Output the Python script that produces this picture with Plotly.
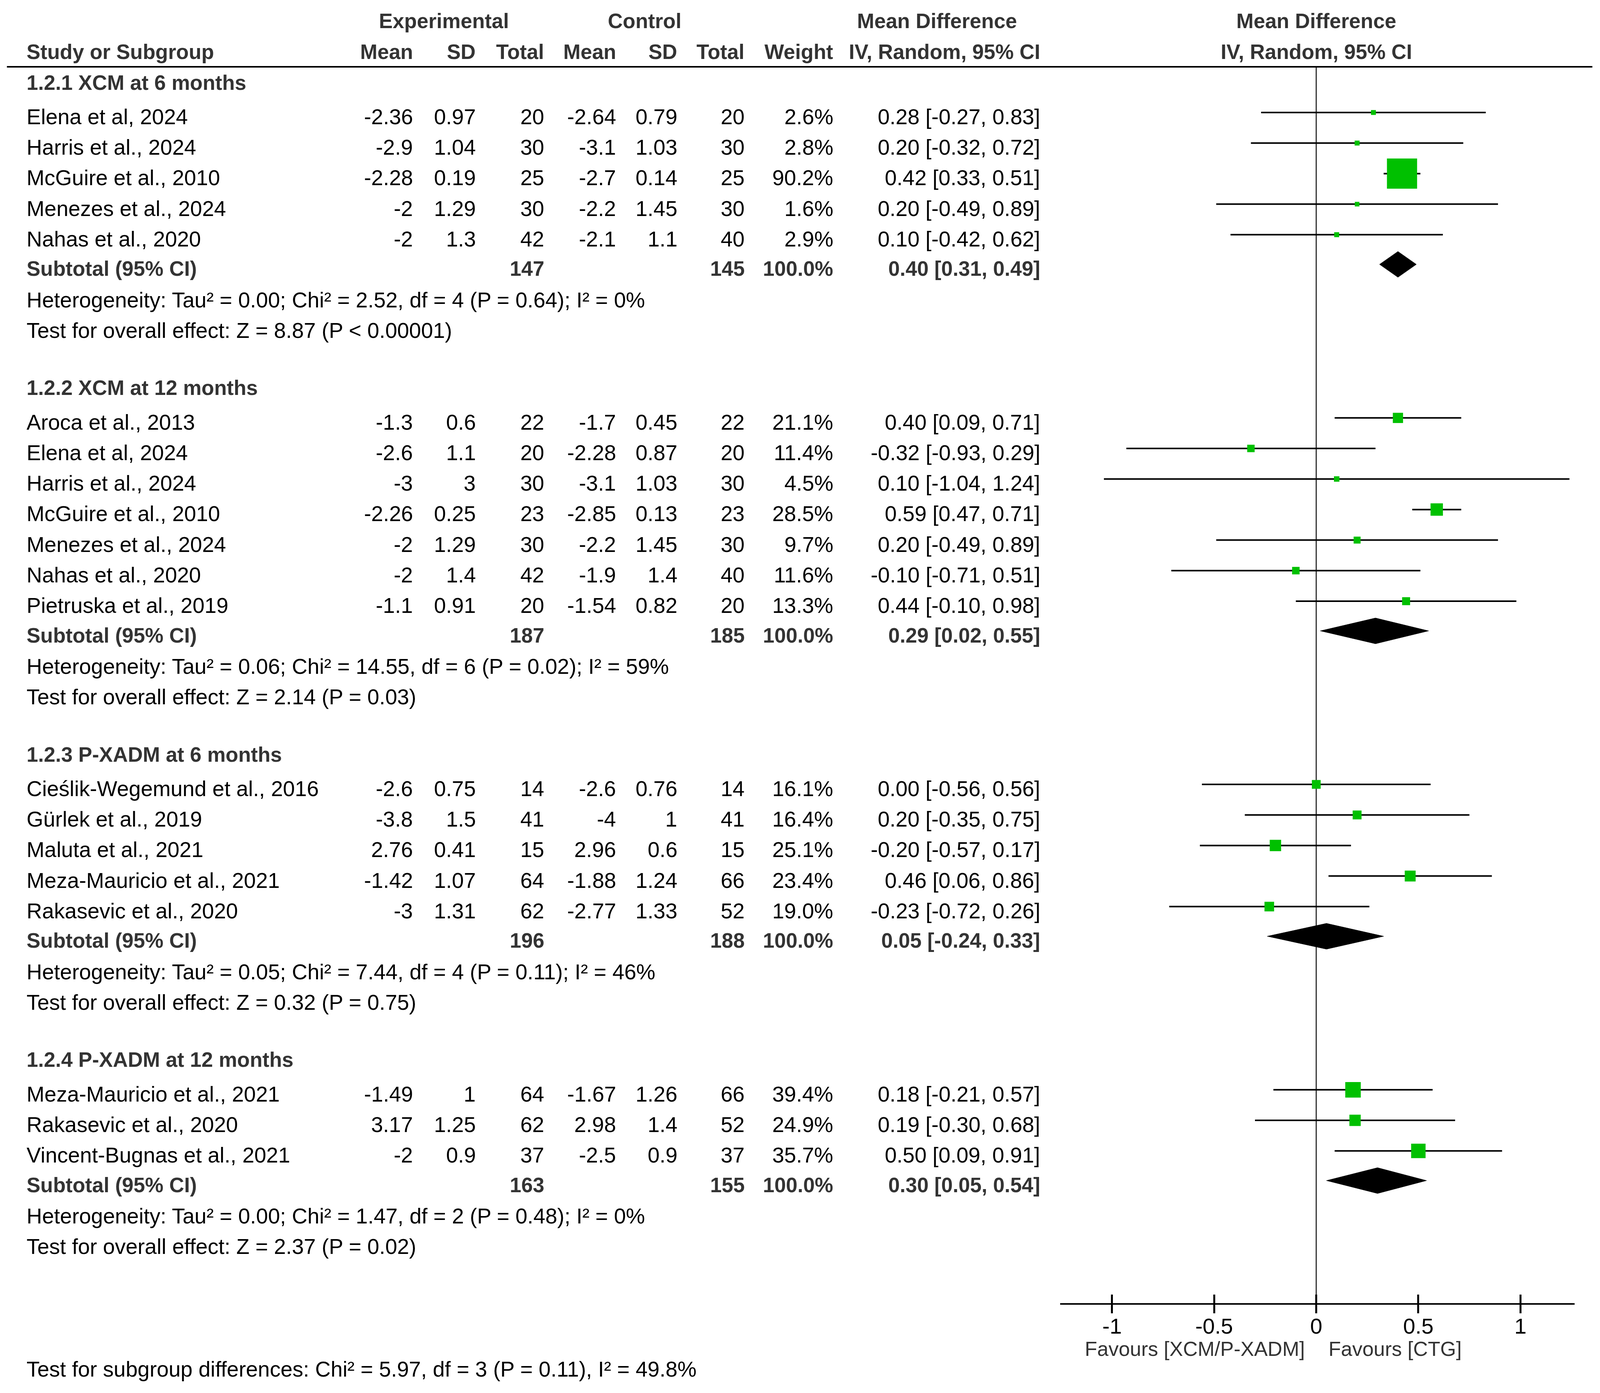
import plotly.graph_objects as go

# ------------------------------------------------------------------ data
group_titles = ["1.2.1 XCM at 6 months", "1.2.2 XCM at 12 months",
                "1.2.3 P-XADM at 6 months", "1.2.4 P-XADM at 12 months"]

study_group = [0, 0, 0, 0, 0,
               1, 1, 1, 1, 1, 1, 1,
               2, 2, 2, 2, 2,
               3, 3, 3]
study_names = ["Elena et al, 2024", "Harris et al., 2024", "McGuire et al., 2010",
               "Menezes et al., 2024", "Nahas et al., 2020",
               "Aroca et al., 2013", "Elena et al, 2024", "Harris et al., 2024",
               "McGuire et al., 2010", "Menezes et al., 2024", "Nahas et al., 2020",
               "Pietruska et al., 2019",
               "Cieślik-Wegemund et al., 2016", "Gürlek et al., 2019", "Maluta et al., 2021",
               "Meza-Mauricio et al., 2021", "Rakasevic et al., 2020",
               "Meza-Mauricio et al., 2021", "Rakasevic et al., 2020",
               "Vincent-Bugnas et al., 2021"]
exp_mean = [-2.36, -2.9, -2.28, -2, -2,
            -1.3, -2.6, -3, -2.26, -2, -2, -1.1,
            -2.6, -3.8, 2.76, -1.42, -3,
            -1.49, 3.17, -2]
exp_sd = [0.97, 1.04, 0.19, 1.29, 1.3,
          0.6, 1.1, 3, 0.25, 1.29, 1.4, 0.91,
          0.75, 1.5, 0.41, 1.07, 1.31,
          1, 1.25, 0.9]
exp_n = [20, 30, 25, 30, 42,
         22, 20, 30, 23, 30, 42, 20,
         14, 41, 15, 64, 62,
         64, 62, 37]
ctl_mean = [-2.64, -3.1, -2.7, -2.2, -2.1,
            -1.7, -2.28, -3.1, -2.85, -2.2, -1.9, -1.54,
            -2.6, -4, 2.96, -1.88, -2.77,
            -1.67, 2.98, -2.5]
ctl_sd = [0.79, 1.03, 0.14, 1.45, 1.1,
          0.45, 0.87, 1.03, 0.13, 1.45, 1.4, 0.82,
          0.76, 1, 0.6, 1.24, 1.33,
          1.26, 1.4, 0.9]
ctl_n = [20, 30, 25, 30, 40,
         22, 20, 30, 23, 30, 40, 20,
         14, 41, 15, 66, 52,
         66, 52, 37]
weights = [2.6, 2.8, 90.2, 1.6, 2.9,
           21.1, 11.4, 4.5, 28.5, 9.7, 11.6, 13.3,
           16.1, 16.4, 25.1, 23.4, 19.0,
           39.4, 24.9, 35.7]
md = [0.28, 0.20, 0.42, 0.20, 0.10,
      0.40, -0.32, 0.10, 0.59, 0.20, -0.10, 0.44,
      0.00, 0.20, -0.20, 0.46, -0.23,
      0.18, 0.19, 0.50]
ci_low = [-0.27, -0.32, 0.33, -0.49, -0.42,
          0.09, -0.93, -1.04, 0.47, -0.49, -0.71, -0.10,
          -0.56, -0.35, -0.57, 0.06, -0.72,
          -0.21, -0.30, 0.09]
ci_high = [0.83, 0.72, 0.51, 0.89, 0.62,
           0.71, 0.29, 1.24, 0.71, 0.89, 0.51, 0.98,
           0.56, 0.75, 0.17, 0.86, 0.26,
           0.57, 0.68, 0.91]

sub_exp_n = [147, 187, 196, 163]
sub_ctl_n = [145, 185, 188, 155]
sub_weight = [100.0, 100.0, 100.0, 100.0]
sub_md = [0.40, 0.29, 0.05, 0.30]
sub_low = [0.31, 0.02, -0.24, 0.05]
sub_high = [0.49, 0.55, 0.33, 0.54]

heterogeneity = [
    "Heterogeneity: Tau² = 0.00; Chi² = 2.52, df = 4 (P = 0.64); I² = 0%",
    "Heterogeneity: Tau² = 0.06; Chi² = 14.55, df = 6 (P = 0.02); I² = 59%",
    "Heterogeneity: Tau² = 0.05; Chi² = 7.44, df = 4 (P = 0.11); I² = 46%",
    "Heterogeneity: Tau² = 0.00; Chi² = 1.47, df = 2 (P = 0.48); I² = 0%",
]
overall_effect = [
    "Test for overall effect: Z = 8.87 (P < 0.00001)",
    "Test for overall effect: Z = 2.14 (P = 0.03)",
    "Test for overall effect: Z = 0.32 (P = 0.75)",
    "Test for overall effect: Z = 2.37 (P = 0.02)",
]
subgroup_test = "Test for subgroup differences: Chi² = 5.97, df = 3 (P = 0.11), I² = 49.8%"

tick_vals = [-1, -0.5, 0, 0.5, 1]
tick_text = ["-1", "-0.5", "0", "0.5", "1"]
favours_left = "Favours [XCM/P-XADM]"
favours_right = "Favours [CTG]"

header_top = ["Experimental", "Control", "Mean Difference"]
header_cols = ["Mean", "SD", "Total", "Mean", "SD", "Total", "Weight", "IV, Random, 95% CI"]

# ------------------------------------------------------------------ layout / style
# The browser viewport is ~4096 px wide (not 4403) and the page has an 8 px
# body margin; the figure is laid out in reference-pixel units and mapped to it.
RW, RH = 4403, 3566
VW, VH = 4096, 3566
SX = VW / RW            # horizontal css px per reference px
OFF = 8
FW, FH = VW - 2 * OFF - 6, VH - 2 * OFF - 4

FONT = "Liberation Sans"
FS, FSB = 55, 53
BLACK, DARK = "#000000", "#333333"
GREEN = "#00C000"

X_STUDY = 71
COL_X = [1138, 1311, 1500, 1697, 1866, 2051, 2295, 2865]
TOP_X = [1222, 1774, 2578]
Y_HEAD1, Y_HEAD2, Y_RULE = 53, 132, 171
Y_AXIS = 3336
X_AXIS_L, X_AXIS_R = 2917, 4333
AX_RANGE = [-1.255, 1.265]
TXT_OFF = 11
PITCH = 78.2


def cx(r):
    return r * SX - OFF


def cy(r):
    return r - OFF


annotations = []


def txt(x, y, s, anchor="left", bold=False, size=None, color=None, xref="x"):
    annotations.append(dict(
        x=x, y=y, xref=xref, yref="y", text=(f"<b>{s}</b>" if bold else s),
        showarrow=False, xanchor=anchor, yanchor="middle",
        font=dict(family=FONT, size=size or (FSB if bold else FS),
                  color=color or (DARK if bold else BLACK))))


def g(v):
    return f"{v:g}"


# headers
for s, x in zip(header_top, TOP_X):
    txt(x, Y_HEAD1, s, anchor="center", bold=True)
txt(X_STUDY, Y_HEAD2, "Study or Subgroup", bold=True)
for s, x in zip(header_cols, COL_X):
    txt(x, Y_HEAD2, s, anchor="right", bold=True)
txt(0, Y_HEAD1, header_top[2], anchor="center", bold=True, xref="x2")
txt(0, Y_HEAD2, header_cols[-1], anchor="center", bold=True, xref="x2")

# rows
study_y = [None] * len(study_names)
sub_y = []
y = 200.0
for gi, title in enumerate(group_titles):
    txt(X_STUDY, y + TXT_OFF, title, bold=True)
    idx = [i for i, sg in enumerate(study_group) if sg == gi]
    yy = y + 88
    for k, i in enumerate(idx):
        study_y[i] = yy + k * PITCH
        ty = study_y[i] + TXT_OFF
        txt(X_STUDY, ty, study_names[i])
        vals = [g(exp_mean[i]), g(exp_sd[i]), str(exp_n[i]),
                g(ctl_mean[i]), g(ctl_sd[i]), str(ctl_n[i]),
                f"{weights[i]:.1f}%",
                f"{md[i]:.2f} [{ci_low[i]:.2f}, {ci_high[i]:.2f}]"]
        for s, x in zip(vals, COL_X):
            txt(x, ty, s, anchor="right")
    sy = study_y[idx[-1]] + 76
    sub_y.append(sy)
    ty = sy + TXT_OFF
    txt(X_STUDY, ty, "Subtotal (95% CI)", bold=True)
    txt(COL_X[2], ty, str(sub_exp_n[gi]), anchor="right", bold=True)
    txt(COL_X[5], ty, str(sub_ctl_n[gi]), anchor="right", bold=True)
    txt(COL_X[6], ty, f"{sub_weight[gi]:.1f}%", anchor="right", bold=True)
    txt(COL_X[7], ty, f"{sub_md[gi]:.2f} [{sub_low[gi]:.2f}, {sub_high[gi]:.2f}]",
        anchor="right", bold=True)
    hy = sy + 80
    txt(X_STUDY, hy + TXT_OFF, heterogeneity[gi])
    oy = hy + 78
    txt(X_STUDY, oy + TXT_OFF, overall_effect[gi])
    y = oy + 147

txt(X_STUDY, 3505, subgroup_test)
txt(0, 3453, favours_left, anchor="right", size=52, color=DARK, xref="x2")
annotations[-1]["xshift"] = -30 * SX
txt(0, 3453, favours_right, anchor="left", size=52, color=DARK, xref="x2")
annotations[-1]["xshift"] = 32 * SX

# ------------------------------------------------------------------ traces
fig = go.Figure()

lx, ly = [], []
for i in range(len(study_names)):
    lx += [ci_low[i], ci_high[i], None]
    ly += [study_y[i], study_y[i], None]
fig.add_trace(go.Scatter(x=lx, y=ly, xaxis="x2", yaxis="y2", mode="lines",
                         line=dict(color=BLACK, width=4), hoverinfo="skip",
                         showlegend=False))

fig.add_trace(go.Scatter(x=md, y=study_y, xaxis="x2", yaxis="y2", mode="markers",
                         marker=dict(symbol="square", color=GREEN, opacity=1,
                                     size=[(11 + 0.765 * w) * 0.965 for w in weights],
                                     line=dict(width=0)),
                         showlegend=False))

HALF = 33
for gi in range(len(group_titles)):
    sy = sub_y[gi]
    fig.add_trace(go.Scatter(
        x=[sub_low[gi], sub_md[gi], sub_high[gi], sub_md[gi], sub_low[gi]],
        y=[sy, sy - HALF, sy, sy + HALF, sy],
        xaxis="x2", yaxis="y2", mode="lines", fill="toself",
        fillcolor=BLACK, line=dict(color=BLACK, width=1), showlegend=False))

fig.add_trace(go.Scatter(x=[0], y=[Y_AXIS], xaxis="x3", yaxis="y2", mode="markers",
                         marker=dict(opacity=0), showlegend=False, hoverinfo="skip"))

dom_x2 = [cx(X_AXIS_L) / FW, cx(X_AXIS_R) / FW]
dom_y2 = [1 - cy(Y_AXIS) / FH, 1 - cy(Y_RULE) / FH]
fig.update_layout(
    width=FW, height=FH, autosize=False,
    margin=dict(l=0, r=0, t=0, b=0, pad=0),
    paper_bgcolor="white", plot_bgcolor="rgba(0,0,0,0)",
    showlegend=False,
    xaxis=dict(domain=[0, 1], range=[OFF / SX, (FW + OFF) / SX], visible=False),
    yaxis=dict(domain=[0, 1], range=[FH + OFF, OFF], visible=False),
    xaxis2=dict(domain=dom_x2, range=AX_RANGE, anchor="y2",
                showline=True, linecolor=BLACK, linewidth=4,
                ticks="outside", ticklen=22, tickwidth=5 * SX, tickcolor=BLACK,
                tickvals=tick_vals, ticktext=tick_text, ticklabelstandoff=-15,
                tickfont=dict(family=FONT, size=56, color=BLACK),
                showgrid=False, zeroline=True, zerolinecolor=DARK,
                zerolinewidth=3 * SX),
    xaxis3=dict(overlaying="x2", range=AX_RANGE, anchor="y2",
                showline=False, ticks="inside", ticklen=22, tickwidth=5 * SX,
                tickcolor=BLACK, tickvals=tick_vals, showticklabels=False,
                showgrid=False, zeroline=False),
    yaxis2=dict(domain=dom_y2, range=[Y_AXIS, Y_RULE], anchor="x2", visible=False),
    annotations=annotations,
    shapes=[dict(type="line", xref="x", yref="y", x0=19, x1=4382,
                 y0=Y_RULE, y1=Y_RULE, line=dict(color=BLACK, width=4))],
)

fig.write_html("out.html")
